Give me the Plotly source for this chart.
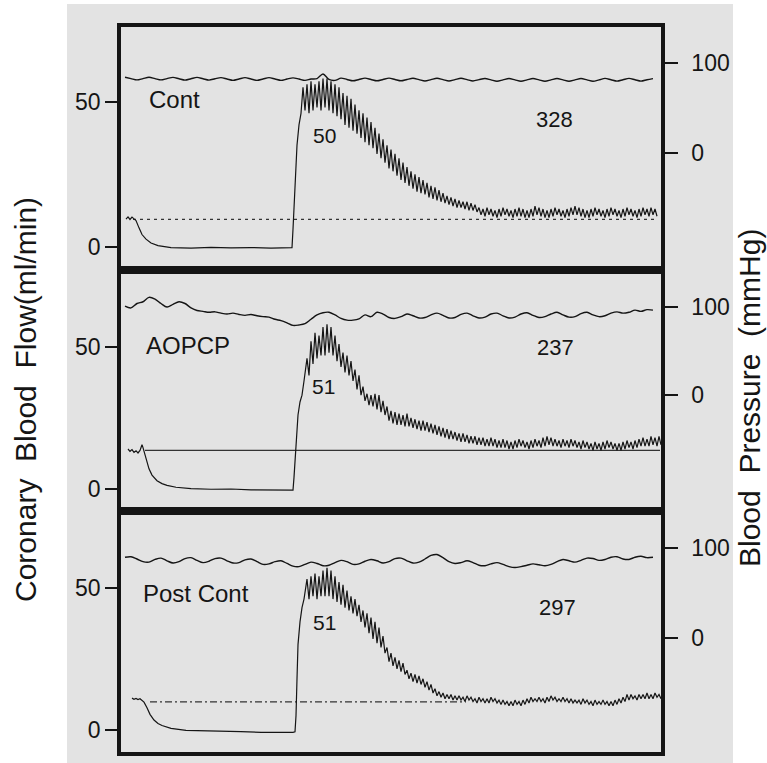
import numpy as np
import plotly.graph_objects as go

# ---------------- data (read from the recording) ----------------
panel_names = ["Cont", "AOPCP", "Post Cont"]
peak_labels = ["50", "51", "51"]
area_labels = ["328", "237", "297"]
flow_ticks = [0, 50]
pressure_ticks = [0, 100]

# time in arbitrary chart units (0 .. 540)
# coronary flow (ml/min): slow part before the reactive hyperaemia
p1_pre_t = [5, 7, 9, 11, 13, 15, 18, 21, 25, 30, 37, 50, 70, 90, 110, 130, 150, 165, 171, 172, 174, 176, 178, 180]
p1_pre_v = [9.5, 10.3, 9.4, 10.2, 9.6, 9.0, 6.5, 4.2, 2.6, 1.3, 0.4, -0.3, -0.5, -0.2, -0.4, -0.3, -0.5, -0.2, -0.3, 6, 22, 35, 42, 46]
p2_pre_t = [7, 9, 11, 13, 15, 17, 19, 21, 22, 24, 26, 28, 31, 36, 41, 46, 55, 70, 90, 110, 130, 150, 165, 172, 173, 175, 177, 179, 181, 183]
p2_pre_v = [14, 13.2, 13.8, 12.8, 13.4, 12.6, 13.5, 15.5, 14.5, 12, 9, 7, 4.8, 2.8, 1.8, 1.2, 0.5, 0.0, -0.2, -0.1, -0.4, -0.5, -0.6, -0.5, 4, 15, 26, 30.6, 33, 38]
p3_pre_t = [11, 13, 15, 17, 19, 21, 23, 26, 29, 33, 37, 41, 50, 65, 80, 100, 120, 140, 160, 172, 174, 175, 176, 177, 179, 181, 183]
p3_pre_v = [11.2, 10.8, 11.1, 10.7, 11, 10.5, 9.8, 7.8, 5.5, 3.5, 2.3, 1.6, 0.6, -0.1, -0.3, -0.5, -0.6, -0.8, -0.9, -0.8, -0.6, 5, 18, 30, 38, 43, 46]

# pulsatile part: beat maxima / minima, one beat every 4 time units
band_start = [182, 186, 186]
p1_hi = [55, 56, 57, 56, 57, 58, 58, 57, 56, 55,
         53, 52, 51, 49, 47, 46, 44.5, 43, 41, 39,
         37, 35, 33.5, 32, 30.5, 29, 27.5, 26, 25, 24,
         23, 22, 21, 20.5, 19.5, 18.5, 17.5, 17, 16.5, 16,
         15.5, 15.5, 15, 14.5, 13.5, 13, 13.5, 13, 12.5, 13,
         13.5, 13, 12.5, 13, 13.5, 13, 12.5, 13, 14, 13.5,
         13, 12.5, 13, 13.5, 13, 12.5, 13, 13.5, 14, 13.5,
         13, 12.5, 13, 13.5, 13, 12.5, 13, 13.5, 13, 12.5,
         13, 13.5, 13, 12.5, 13, 13.5, 13, 13.5, 13]
p1_lo = [47, 46, 47, 48, 47, 48, 47, 46, 45, 44,
         42, 41, 40, 39, 37.5, 36, 35, 34, 32, 30.5,
         29, 27, 26, 24.5, 23, 22, 21, 20, 19, 18.5,
         18, 17, 16.5, 16, 15.5, 15, 14.5, 14, 13.5, 13.5,
         13, 12.5, 12.5, 12, 11, 10.5, 11, 10.5, 10, 10.5,
         11, 10.5, 10, 10.5, 10.5, 10, 10, 10.5, 11, 10.5,
         10, 10, 10.5, 11, 10.5, 10, 10.5, 11, 11, 10.5,
         10, 10, 10.5, 11, 10.5, 10, 10.5, 11, 10.5, 10,
         10.5, 11, 10.5, 10, 10.5, 11, 10.5, 11, 10.5]
p2_hi = [46, 52, 55, 54, 57, 58, 57, 54, 51, 48,
         47, 45, 42, 40, 36, 33.5, 33, 33.5, 33, 31,
         29, 27.5, 27, 26.5, 26, 26.5, 25, 24.5, 24, 24,
         23.5, 23, 22.5, 22, 21.5, 21, 20.5, 20, 19.5, 19.5,
         19, 18.5, 18.5, 18, 18, 17.5, 18, 17.5, 17, 17.5,
         17, 16.5, 17, 17.5, 17, 16.5, 17, 17.5, 17, 18,
         18.5, 18, 17.5, 17, 17.5, 17, 17.5, 17, 16.5, 17,
         16.5, 16, 16.5, 16, 16.5, 17, 16.5, 16, 16, 16.5,
         17, 16.5, 17, 17.5, 18, 17.5, 18.5, 18, 18.5]
p2_lo = [40, 44, 46, 47, 47, 48, 47, 45, 43, 41,
         40, 38, 35, 33, 31, 29.5, 29, 28, 27, 26,
         24, 23, 22.5, 22.5, 22, 22, 21.5, 21, 20.5, 20.5,
         20, 19.5, 19, 18.5, 18, 17.5, 17.5, 17, 16.5, 16.5,
         16, 16, 15.5, 15.5, 15, 15, 15, 14.5, 14.5, 14.5,
         14, 14, 14.5, 15, 14.5, 14, 14.5, 15, 14.5, 15,
         15.5, 15, 15, 14.5, 15, 14.5, 15, 14.5, 14, 14.5,
         14, 13.5, 14, 13.5, 14, 14.5, 14, 13.5, 13.5, 14,
         14.5, 14, 14.5, 15, 15, 15, 15.5, 15, 15.5]
p3_hi = [53, 54, 55, 54, 56, 57, 56, 54, 52, 51,
         49, 47, 46, 44, 42, 41, 39.5, 38, 36, 33,
         29, 27, 25.5, 24.5, 23.5, 21, 20, 19.5, 19, 18,
         17, 16, 14.5, 13.5, 13, 12.5, 12.5, 12, 12, 11.5,
         12, 11.5, 11, 11.5, 11, 11, 11.5, 11, 10.5, 10.5,
         10, 10, 10.5, 10, 10.5, 11, 11.5, 11, 11.5, 11,
         11.5, 12, 11.5, 11, 11.5, 11, 11, 10.5, 10.5, 11,
         10.5, 10, 10.5, 10, 10.5, 10, 10, 10.5, 11, 11.5,
         12.5, 12.5, 12, 12.5, 12.5, 13, 12.5, 13, 12.5]
p3_lo = [46, 47, 46, 47, 47, 47, 46, 45, 44, 43,
         42, 41, 40, 38, 36, 34, 32, 30.5, 29, 27,
         24, 22.5, 21.5, 20.5, 19.5, 18, 17, 16.5, 16, 15,
         14, 13, 12, 11.5, 11, 11, 10.5, 10.5, 10.5, 10,
         10.5, 10, 9.5, 10, 9.5, 9.5, 10, 9.5, 9, 9,
         8.5, 8.5, 9, 8.5, 9, 9.5, 10, 10, 10, 9.5,
         10, 10.5, 10, 10, 10, 9.5, 9.5, 9.5, 9, 9.5,
         9, 8.5, 9, 9, 9, 8.5, 8.5, 9, 9.5, 10,
         10.5, 11, 10.5, 11, 11, 11, 11, 11.5, 11]

# reference (pre-occlusion) flow level drawn across each panel
baseline_level = [9.45, 13.5, 9.9]
baseline_span = [(12, 536), (24, 539), (29, 345)]

# aortic blood pressure (mmHg), sampled every 6 time units from t = 4
p1_pressure = [84.5, 83, 81.5, 83, 84.5, 83, 81.5, 83, 84.3, 82.8, 81.3, 82.8,
               84.3, 82.8, 81.3, 82.8, 84, 82.5, 81, 82.5, 84, 82.5, 81, 82.5,
               84, 82.5, 81, 82.5, 83.8, 82.5, 81, 82.5, 83, 88, 82, 81,
               83.5, 82, 80.5, 82, 83.5, 82, 80.5, 82, 83.5, 82, 80.5, 82,
               83.3, 81.8, 80.3, 81.8, 83.3, 81.8, 80.3, 81.8, 83.3, 81.8, 80.3, 81.8,
               83, 81.5, 80, 81.5, 83, 81.5, 80, 81.5, 83, 81.5, 80, 81.5,
               83, 81.5, 80, 81.5, 83, 81.5, 80, 81.5, 83.2, 81.7, 80.2, 81.7,
               83.2, 81.7, 80.2, 81.7, 83]
p2_pressure = [101, 99, 104, 106, 111, 109, 104, 100, 103, 106, 104, 99,
               96, 95, 94, 94.5, 93, 92, 93, 91.5, 90.5, 91.5, 90, 89,
               88.5, 86, 84.5, 82, 79, 79.5, 81, 86, 91, 93.5, 94, 91,
               87, 85, 85, 86.5, 91, 89, 94, 92, 88, 87, 89, 92,
               90, 87.5, 88, 91, 93, 90.5, 87.5, 88, 91.5, 93, 90, 87.5,
               88.5, 92, 93, 90, 87.5, 88.5, 92, 93.5, 90.5, 88, 89, 92,
               94, 91, 88.5, 89, 92.5, 94, 91, 89, 90, 93, 94.5, 93,
               94, 96.5, 95, 97, 96.5]
p3_pressure = [90, 90.5, 88, 85, 84.5, 87.5, 89, 86, 83.5, 85, 88.5, 89.5,
               86.5, 84, 85.5, 88.5, 89, 86, 83.5, 84, 87, 88, 85, 82,
               82.5, 85, 86, 83, 80, 79.5, 82, 84.5, 83, 80.5, 81, 84,
               86.5, 85, 82, 82.5, 85.5, 87.5, 86, 83.5, 85, 88.5, 89, 86,
               83.5, 84.5, 88, 92, 93, 89.5, 85, 83, 84, 86, 84, 81,
               80.5, 82.5, 84, 82, 79.5, 78.5, 79.5, 81, 82.5, 81.5, 80.5, 82,
               85, 87.5, 86, 84.5, 86.5, 89, 88.5, 86.5, 87.5, 90, 90.5, 88,
               87.5, 90, 91, 89.5, 90]
pressure_t0, pressure_dt = 4, 6

flow_pre = [(p1_pre_t, p1_pre_v), (p2_pre_t, p2_pre_v), (p3_pre_t, p3_pre_v)]
flow_band = [(p1_hi, p1_lo), (p2_hi, p2_lo), (p3_hi, p3_lo)]
pressures = [p1_pressure, p2_pressure, p3_pressure]

# ---------------- layout geometry ----------------
W, H = 767, 763
def fx(px):
    return px / W
def fy(px):
    return 1 - px / H

x_dom = [fx(121), fx(661)]
panel_px = [(27, 270), (270, 511), (511, 752)]
flow_range = [[-8.03, 75.76], [-7.87, 77.17], [-7.73, 76.95]]
press_range = [[-129.7, 140.3], [-132.6, 142.2], [-127.9, 141.7]]
T_RANGE = [0, 540]

INK = "#151515"
FONT = "Liberation Sans, Arial, sans-serif"

fig = go.Figure()
layout = dict(
    width=W, height=H,
    margin=dict(l=0, r=0, t=0, b=0),
    paper_bgcolor="white",
    plot_bgcolor="rgba(0,0,0,0)",
    showlegend=False,
    font=dict(family=FONT, color=INK),
)

annotations = []
for i in range(3):
    n = i + 1
    xa = "x" if n == 1 else f"x{n}"
    ya_flow = f"y{2 * i + 1}" if i > 0 else "y"
    ya_pr = f"y{2 * i + 2}"
    xkey = "xaxis" if n == 1 else f"xaxis{n}"
    yk_flow = "yaxis" if i == 0 else f"yaxis{2 * i + 1}"
    yk_pr = f"yaxis{2 * i + 2}"
    top, bot = panel_px[i]
    dom = [fy(bot), fy(top)]

    layout[xkey] = dict(domain=x_dom, anchor=ya_flow, range=T_RANGE,
                        showline=True, mirror=True, linewidth=3.5, linecolor=INK,
                        showticklabels=False, ticks="", showgrid=False, zeroline=False,
                        fixedrange=True)
    layout[yk_flow] = dict(domain=dom, anchor=xa, range=flow_range[i],
                           showline=True, linewidth=3.5, linecolor=INK,
                           tickmode="array", tickvals=flow_ticks, ticks="outside",
                           ticklen=12, tickwidth=2, tickcolor=INK,
                           tickfont=dict(size=23, color=INK, family=FONT),
                           showgrid=False, zeroline=False, automargin=False)
    layout[yk_pr] = dict(overlaying=ya_flow, anchor=xa, side="right", range=press_range[i],
                         showline=True, linewidth=3.5, linecolor=INK,
                         tickmode="array", tickvals=pressure_ticks, ticks="outside",
                         ticklen=13, tickwidth=2, tickcolor=INK, ticklabelstandoff=9,
                         tickfont=dict(size=23, color=INK, family=FONT),
                         showgrid=False, zeroline=False, automargin=False)

    # reference flow level
    b0, b1 = baseline_span[i]
    dash = ["3px,4px", "solid", "7px,3px,2px,3px"][i]
    fig.add_trace(go.Scatter(x=[b0, b1], y=[baseline_level[i]] * 2, xaxis=xa, yaxis=ya_flow,
                             mode="lines", line=dict(color="#333", width=1.3, dash=dash),
                             hoverinfo="skip"))

    # coronary flow trace
    pre_t, pre_v = flow_pre[i]
    hi, lo = flow_band[i]
    t = list(pre_t)
    v = list(pre_v)
    for k, (h, l) in enumerate(zip(hi, lo)):
        t += [band_start[i] + 4 * k, band_start[i] + 4 * k + 2]
        v += [h, l]
    fig.add_trace(go.Scatter(x=t, y=v, xaxis=xa, yaxis=ya_flow, mode="lines",
                             line=dict(color=INK, width=1.2), hoverinfo="skip"))

    # blood pressure trace
    pr = pressures[i]
    pt = [pressure_t0 + pressure_dt * k for k in range(len(pr))]
    fig.add_trace(go.Scatter(x=pt, y=pr, xaxis=xa, yaxis=ya_pr, mode="lines",
                             line=dict(color=INK, width=1.4, shape="spline", smoothing=0.9),
                             hoverinfo="skip"))

    # labels inside the panel
    pos_name = [(53, 50.9), (67, 50.7), (75, 47.8)][i]
    pos_peak = [(203, 38.2), (202, 35.9), (203, 37.9)][i]
    pos_area = [(433, 43.7), (434, 50.0), (436, 43.2)][i]
    annotations.append(dict(x=pos_name[0], y=pos_name[1], xref=xa, yref=ya_flow,
                            text=panel_names[i], showarrow=False,
                            font=dict(size=24, color=INK, family=FONT)))
    annotations.append(dict(x=pos_peak[0], y=pos_peak[1], xref=xa, yref=ya_flow,
                            text=peak_labels[i], showarrow=False,
                            font=dict(size=21, color=INK, family=FONT)))
    annotations.append(dict(x=pos_area[0], y=pos_area[1], xref=xa, yref=ya_flow,
                            text=area_labels[i], showarrow=False,
                            font=dict(size=22, color=INK, family=FONT)))

annotations.append(dict(x=fx(25), y=fy(400), xref="paper", yref="paper",
                        text="Coronary  Blood  Flow(ml/min)", textangle=-90, showarrow=False,
                        xanchor="center", yanchor="middle",
                        font=dict(size=30, color=INK, family=FONT)))
annotations.append(dict(x=fx(750), y=fy(398), xref="paper", yref="paper",
                        text="Blood  Pressure  (mmHg)", textangle=-90, showarrow=False,
                        xanchor="center", yanchor="middle",
                        font=dict(size=30, color=INK, family=FONT)))

layout["annotations"] = annotations
layout["shapes"] = [dict(type="rect", xref="paper", yref="paper",
                         x0=fx(67), x1=fx(733), y0=0, y1=fy(4),
                         fillcolor="#e3e3e3", line=dict(width=0), layer="below")]
fig.update_layout(**layout)
fig.write_html("out.html", config={"displayModeBar": False},
               post_script="document.body.style.margin='0';document.body.style.overflow='hidden';")
